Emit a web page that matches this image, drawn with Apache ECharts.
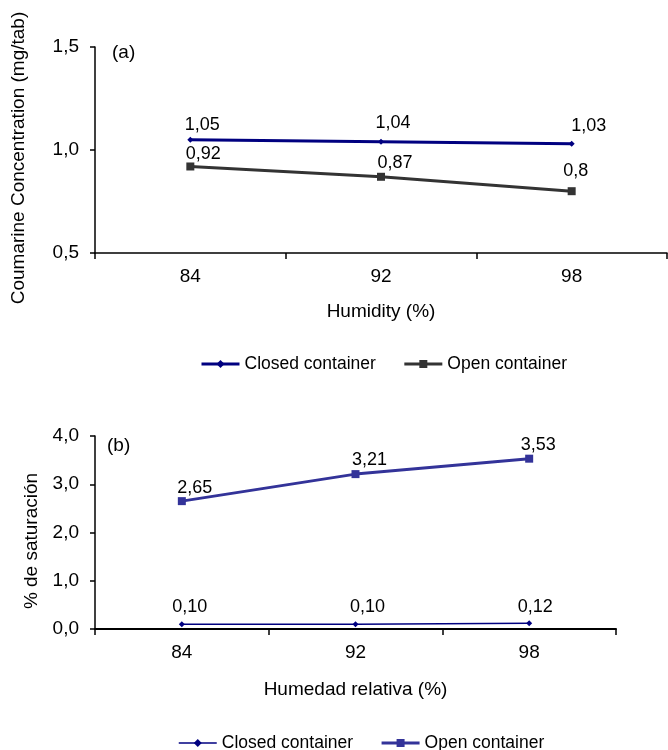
<!DOCTYPE html>
<html>
<head>
<meta charset="utf-8">
<script src="https://cdn.jsdelivr.net/npm/echarts@6/dist/echarts.min.js"></script>
<style>
html,body{margin:0;padding:0;background:#fff;}
#a,#b{width:668px;height:375px;}
</style>
</head>
<body>
<div id="a"></div>
<div id="b"></div>
<script>
// ---- data ----
var humidityA = ['84', '92', '98'];
var closedA = [1.05, 1.04, 1.03];
var openA = [0.92, 0.87, 0.8];
var humidityB = ['84', '92', '98'];
var closedB = [0.10, 0.10, 0.12];
var openB = [2.65, 3.21, 3.53];
var yTicksA = {min: 0.5, max: 1.5, interval: 0.5};
var yTicksB = {min: 0, max: 4, interval: 1};
var legendNames = ['Closed container', 'Open container'];

// ---- label placement (style only) ----
var offClosedA = [[12, -15], [12, -19], [17, -18]];
var offOpenA = [[13, -12], [14, -14], [4, -20]];
var offClosedB = [[8, -17], [12, -17], [6, -16]];
var offOpenB = [[13, -13], [14, -14], [9, -14]];

var FONT = "'Liberation Sans', Arial, sans-serif";
var FS_AX = 19;   // axis labels & names
var FS_LB = 18;   // data labels
var FS_LG = 17.5; // legend

function comma(v) { return String(v).replace('.', ','); }
function comma2(v) { return v.toFixed(2).replace('.', ','); }

function items(vals, offs, fmt) {
  return vals.map(function (v, i) {
    return {
      value: v,
      label: {
        show: true, position: 'inside', offset: offs[i],
        align: 'center', verticalAlign: 'middle',
        formatter: function () { return fmt(v); },
        color: '#000', fontSize: FS_LB, fontFamily: FONT
      }
    };
  });
}

function base(cfg) {
  return {
    animation: false,
    textStyle: {fontFamily: FONT},
    grid: {left: 95, top: cfg.gTop, width: cfg.gW, height: cfg.gH, containLabel: false},
    graphic: [{
      type: 'text', left: cfg.tagX, top: cfg.tagY,
      style: {text: cfg.tag, fontSize: FS_AX, fontFamily: FONT, fill: '#000'}
    }],
    legend: {
      left: cfg.legLeft, top: cfg.legTop, itemWidth: 38, itemHeight: 10, itemGap: 27,
      textStyle: {fontSize: FS_LG, fontFamily: FONT, color: '#000'},
      data: legendNames.map(function (n, i) {
        return {name: n, lineStyle: {width: cfg.legW[i]}};
      })
    },
    xAxis: {
      type: 'category', data: cfg.cats, boundaryGap: true,
      name: cfg.xName, nameLocation: 'middle', nameGap: cfg.xNameGap,
      nameTextStyle: {fontSize: FS_AX, fontFamily: FONT, color: '#000'},
      axisLine: {lineStyle: {color: '#000', width: cfg.axW}},
      axisTick: {show: true, length: 6, lineStyle: {color: '#000', width: 1.5}},
      axisLabel: {fontSize: FS_AX, fontFamily: FONT, color: '#000', margin: 14},
      splitLine: {show: false}
    },
    yAxis: {
      type: 'value', min: cfg.yt.min, max: cfg.yt.max, interval: cfg.yt.interval,
      name: cfg.yName, nameLocation: 'middle', nameGap: cfg.yNameGap,
      nameTextStyle: {fontSize: FS_AX, fontFamily: FONT, color: '#000', padding: [0, cfg.yNamePad, 0, 0]},
      axisLine: {show: true, lineStyle: {color: '#000', width: 1.5}},
      axisTick: {show: true, length: 5, lineStyle: {color: '#000', width: 1.5}},
      axisLabel: {fontSize: FS_AX, fontFamily: FONT, color: '#000', margin: 16,
        formatter: function (v) { return v.toFixed(1).replace('.', ','); }},
      splitLine: {show: false}
    },
    series: cfg.series
  };
}

var chartA = echarts.init(document.getElementById('a'));
chartA.setOption(base({
  gTop: 47, gW: 572, gH: 206, cats: humidityA, yt: yTicksA,
  tag: '(a)', tagX: 112, tagY: 43,
  legLeft: 195, legTop: 350, legW: [3, 3],
  xName: 'Humidity (%)', xNameGap: 49,
  yName: 'Coumarine Concentration (mg/tab)', yNameGap: 67, yNamePad: 16,
  axW: 1.5,
  series: [
    {name: legendNames[0], type: 'line', data: items(closedA, offClosedA, comma),
      symbol: 'diamond', symbolSize: 6, color: '#000080',
      lineStyle: {color: '#000080', width: 3}, itemStyle: {color: '#000080'}},
    {name: legendNames[1], type: 'line', data: items(openA, offOpenA, comma),
      symbol: 'rect', symbolSize: 8, color: '#333333',
      lineStyle: {color: '#333333', width: 3}, itemStyle: {color: '#333333'}}
  ]
}));

var chartB = echarts.init(document.getElementById('b'));
chartB.setOption(base({
  gTop: 61, gW: 521, gH: 193, cats: humidityB, yt: yTicksB,
  tag: '(b)', tagX: 107, tagY: 61,
  legLeft: 173, legTop: 354, legW: [1.5, 3],
  xName: 'Humedad relativa (%)', xNameGap: 51,
  yName: '% de saturación', yNameGap: 53, yNamePad: 17,
  axW: 2,
  series: [
    {name: legendNames[0], type: 'line', data: items(closedB, offClosedB, comma2),
      symbol: 'diamond', symbolSize: 6, color: '#000080',
      lineStyle: {color: '#000080', width: 1.5}, itemStyle: {color: '#000080'}},
    {name: legendNames[1], type: 'line', data: items(openB, offOpenB, comma2),
      symbol: 'rect', symbolSize: 8, color: '#333399',
      lineStyle: {color: '#333399', width: 3}, itemStyle: {color: '#333399'}}
  ]
}));
</script>
</body>
</html>
